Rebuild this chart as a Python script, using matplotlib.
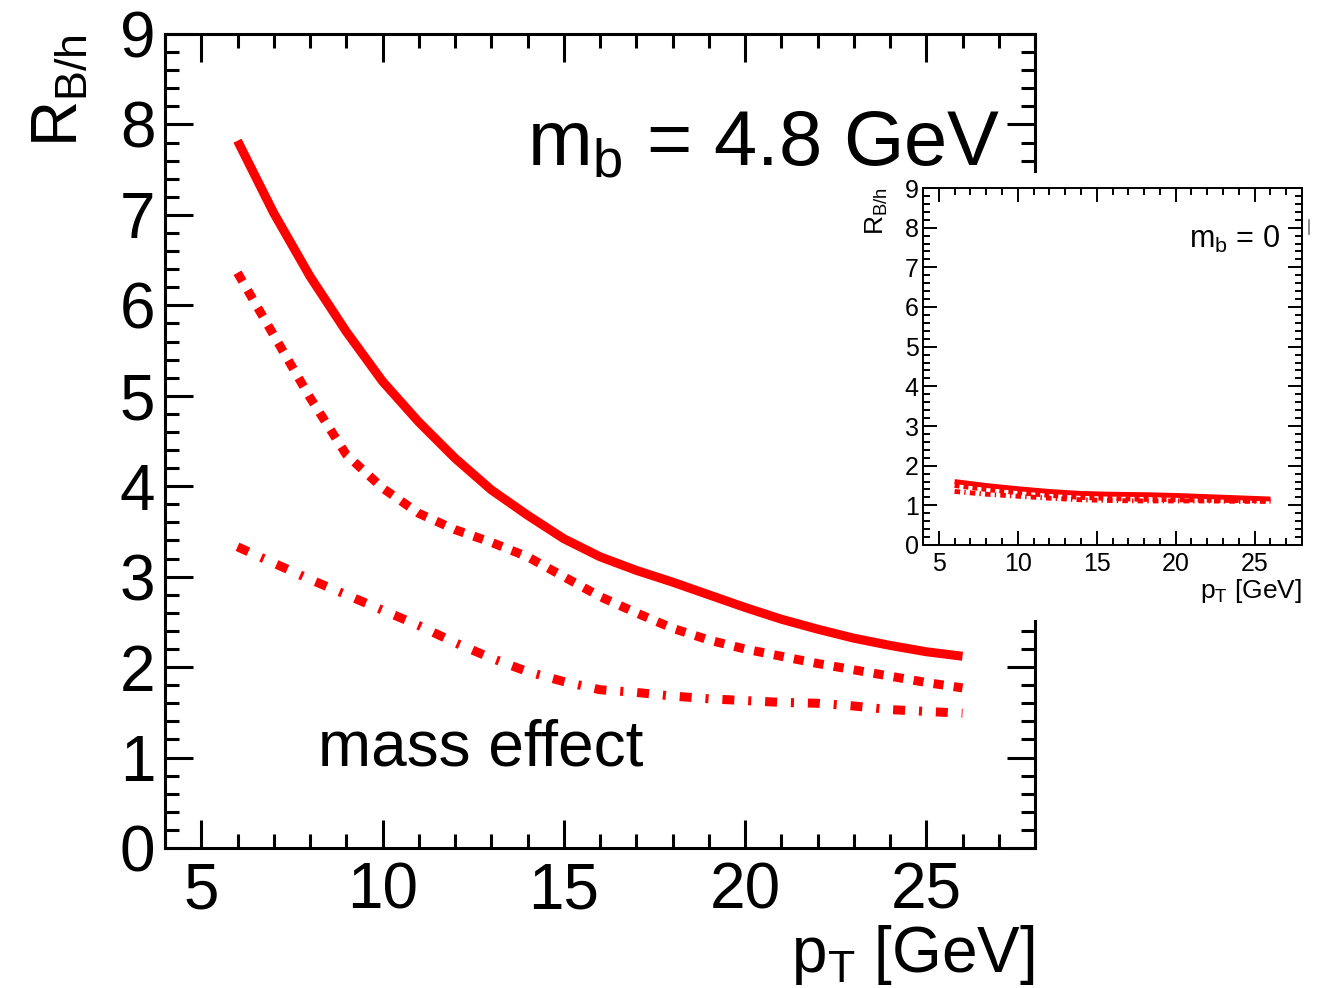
import matplotlib
matplotlib.use('Agg')
import matplotlib.pyplot as plt
from matplotlib.patches import Rectangle
from matplotlib.lines import Line2D
from matplotlib.ticker import MultipleLocator

plt.rcParams['font.family'] = ['Liberation Sans', 'DejaVu Sans']
plt.rcParams['mathtext.fontset'] = 'custom'
plt.rcParams['mathtext.rm'] = 'Liberation Sans'
plt.rcParams['mathtext.it'] = 'Liberation Sans'
plt.rcParams['mathtext.bf'] = 'Liberation Sans:bold'
plt.rcParams['lines.scale_dashes'] = False

# ---- data ----
pt_main = [6, 7, 8, 9, 10, 11, 12, 13, 14, 15, 16, 17, 18, 19, 20, 21, 22, 23, 24, 25, 26]
main_solid = [7.82, 7.02, 6.32, 5.71, 5.16, 4.71, 4.31, 3.96, 3.68, 3.42, 3.22, 3.07, 2.94,
              2.80, 2.66, 2.53, 2.42, 2.32, 2.24, 2.17, 2.12]
main_dotted = [6.36, 5.67, 4.98, 4.35, 3.98, 3.70, 3.52, 3.38, 3.22, 3.00, 2.78, 2.60, 2.43,
               2.30, 2.20, 2.12, 2.04, 1.97, 1.90, 1.83, 1.77]
main_dashdot = [3.33, 3.15, 2.97, 2.80, 2.63, 2.46, 2.27, 2.10, 1.95, 1.84, 1.75, 1.72, 1.68,
                1.65, 1.63, 1.61, 1.60, 1.57, 1.53, 1.51, 1.49]

pt_inset = [6, 8, 10, 12, 14, 16, 18, 20, 22, 24, 26]
inset_solid = [1.60, 1.50, 1.42, 1.35, 1.30, 1.28, 1.27, 1.25, 1.22, 1.19, 1.16]
inset_dotted = [1.50, 1.40, 1.32, 1.25, 1.20, 1.17, 1.15, 1.14, 1.13, 1.12, 1.11]
inset_dashdot = [1.35, 1.28, 1.23, 1.18, 1.14, 1.12, 1.11, 1.11, 1.11, 1.10, 1.10]

W, H = 1317, 988


def fx(px):
    return px / W


def fy(py):
    return 1 - py / H


fig = plt.figure(figsize=(W / 100, H / 100), dpi=100)

# ---- main panel ----
ax = fig.add_axes([fx(165), fy(848), fx(1035) - fx(165), fy(34) - fy(848)])
ax.set_zorder(0)
ax.plot(pt_main, main_solid, color='#ff0000', lw=6.5, solid_capstyle='butt')
ax.plot(pt_main, main_dotted, color='#ff0000', lw=6.5, dashes=(7.2, 7.4), dash_capstyle='butt')
ax.plot(pt_main, main_dashdot, color='#ff0000', lw=6.5, dashes=(8.6, 10, 2.2, 10), dash_capstyle='butt')
ax.set_xlim(4, 28)
ax.set_ylim(0, 9)
ax.xaxis.set_major_locator(MultipleLocator(5))
ax.xaxis.set_minor_locator(MultipleLocator(1))
ax.yaxis.set_major_locator(MultipleLocator(1))
ax.yaxis.set_minor_locator(MultipleLocator(0.2))
ax.tick_params(which='both', direction='in', top=True, right=True, width=2.2, color='black')
ax.tick_params(which='major', length=20, labelsize=46)
ax.tick_params(which='minor', length=10)
ax.tick_params(axis='x', which='major', pad=10)
ax.tick_params(axis='y', which='major', pad=7)
for s in ax.spines.values():
    s.set_linewidth(2.2)

fig.text(fx(60), fy(34), r'R$_{\mathregular{B/h}}$', rotation=90, ha='center', va='top', fontsize=46)
fig.text(fx(1035), fy(972), r'p$_{\mathregular{T}}$ [GeV]', ha='right', va='baseline', fontsize=46)
fig.text(fx(1000), fy(165), r'm$_{\mathregular{b}}$ = 4.8 GeV', ha='right', va='baseline', fontsize=56)
fig.text(fx(318), fy(765), 'mass effect', ha='left', va='baseline', fontsize=46)

# ---- white backing for inset ----
rect = Rectangle((fx(850), fy(620)), fx(1317) - fx(850), fy(173) - fy(620),
                 transform=fig.transFigure, facecolor='white', edgecolor='none', zorder=1)
fig.add_artist(rect)

# ---- inset ----
ai = fig.add_axes([fx(923), fy(545), fx(1302) - fx(923), fy(188) - fy(545)])
ai.set_zorder(2)
ai.plot(pt_inset, inset_solid, color='#ff0000', lw=3.5, solid_capstyle='butt')
ai.plot(pt_inset, inset_dotted, color='#ff0000', lw=3.5, dashes=(3.5, 3.0), dash_capstyle='butt')
ai.plot(pt_inset, inset_dashdot, color='#ff0000', lw=3.5, dashes=(4, 3, 1, 3), dash_capstyle='butt')
ai.set_xlim(4, 28)
ai.set_ylim(0, 9)
ai.xaxis.set_major_locator(MultipleLocator(5))
ai.xaxis.set_minor_locator(MultipleLocator(1))
ai.yaxis.set_major_locator(MultipleLocator(1))
ai.yaxis.set_minor_locator(MultipleLocator(0.2))
ai.tick_params(which='both', direction='in', top=True, right=True, width=1.4, color='black')
ai.tick_params(which='major', length=10, labelsize=18)
ai.tick_params(which='minor', length=5)
ai.tick_params(axis='x', which='major', pad=5)
ai.tick_params(axis='y', which='major', pad=3)
for s in ai.spines.values():
    s.set_linewidth(1.4)

fig.text(fx(877), fy(187), r'R$_{\mathregular{B/h}}$', rotation=90, ha='center', va='top', fontsize=19, zorder=3)
fig.text(fx(1302), fy(598), r'p$_{\mathregular{T}}$ [GeV]', ha='right', va='baseline', fontsize=19, zorder=3)
fig.text(fx(1280), fy(248), r'm$_{\mathregular{b}}$ = 0', ha='right', va='baseline', fontsize=22, zorder=3)

# small stray mark at the inset's right edge (present in the reference)
fig.add_artist(Line2D([fx(1309), fx(1309)], [fy(220), fy(234)], color='#777777', lw=1.2,
                      transform=fig.transFigure, zorder=3))

fig.savefig('out.png', dpi=100)
